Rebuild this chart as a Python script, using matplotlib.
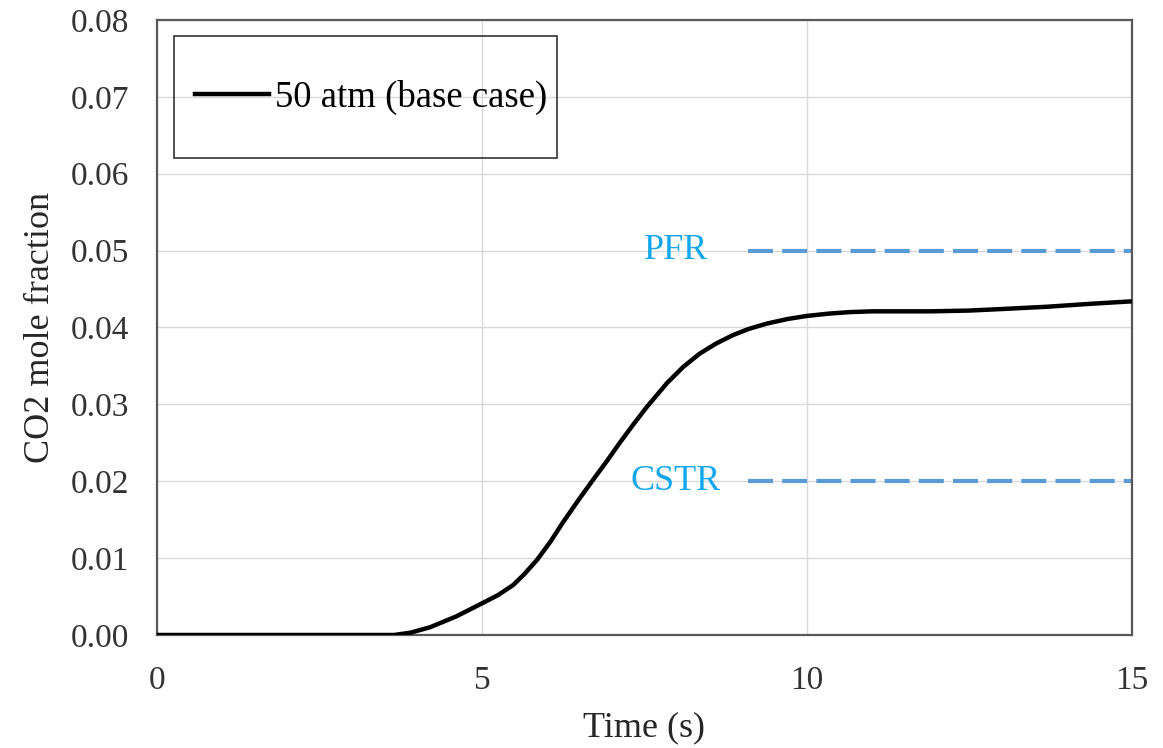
import matplotlib.pyplot as plt
from matplotlib.patches import Rectangle
import numpy as np

plt.rcParams['font.family'] = ['Liberation Serif', 'DejaVu Serif']

# simulated CO2 mole fraction at 50 atm
time_s = [0, 1, 2, 3, 3.65, 3.9, 4.2, 4.6, 5.02, 5.25, 5.48, 5.65, 5.85, 6.05,
          6.25, 6.48, 6.71, 6.92, 7.12, 7.33, 7.54, 7.7, 7.85, 8.1, 8.35,
          8.6, 8.86, 9.1, 9.38, 9.7, 10.0, 10.33, 10.66, 11.0, 11.43, 11.9,
          12.5, 13.0, 13.7, 14.4, 15.0]
co2 = [0, 0, 0, 0, 0, 0.0003, 0.0010, 0.0024, 0.0042, 0.0052, 0.0065, 0.0079,
       0.0098, 0.0121, 0.0147, 0.0175, 0.0202, 0.0226, 0.0250, 0.0274, 0.0297,
       0.0313, 0.0328, 0.0349, 0.0366, 0.0379, 0.0390, 0.0398, 0.0405, 0.0411,
       0.0415, 0.0418, 0.0420, 0.0421, 0.0421, 0.0421, 0.0422, 0.0424, 0.0427,
       0.0431, 0.0434]

# reactor model limits
pfr_level = 0.05
cstr_level = 0.02
ref_start = 9.1
ref_end = 15.0
label_x = 7.98

fig = plt.figure(figsize=(11.63, 7.48), dpi=100)
ax = fig.add_axes([0.135, 0.1511, 0.8383, 0.8222])

ax.plot(time_s, co2, color='black', lw=3.2, label='50 atm (base case)',
        zorder=3, solid_joinstyle='round')

blue = '#5B9BD5'
for lvl in (pfr_level, cstr_level):
    ax.plot([ref_start, ref_end], [lvl, lvl], color=blue, lw=3,
            dashes=(6, 2.2), zorder=2)
ax.text(label_x, pfr_level, 'PFR', color='#12A6EC', fontsize=26,
        ha='center', va='center')
ax.text(label_x, cstr_level, 'CSTR', color='#12A6EC', fontsize=26,
        ha='center', va='center')

ax.set_xlim(0, 15)
ax.set_ylim(0, 0.08)
ax.set_xticks([0, 5, 10, 15])
ax.set_yticks(np.arange(0, 0.081, 0.01))
ax.set_yticklabels(['%.2f' % v for v in np.arange(0, 0.081, 0.01)])
ax.tick_params(length=0, labelsize=24, colors='#333333', pad=20)
ax.tick_params(axis='x', pad=22)
ax.grid(True, color='#d9d9d9', lw=1)
ax.set_axisbelow(True)
for s in ax.spines.values():
    s.set_color('#595959')
    s.set_linewidth(1.6)

ax.set_xlabel('Time (s)', fontsize=26, color='#262626', labelpad=11)
ax.set_ylabel('CO2 mole fraction', fontsize=26, color='#262626', labelpad=10)

# legend frame drawn as its own box
x0, y0, w, h = 0.0174, 0.7756, 0.393, 0.198
ax.add_patch(Rectangle((x0, y0), w, h, transform=ax.transAxes, fill=False,
                       edgecolor='#333333', lw=1.2, zorder=5))
ax.legend(loc='center left', bbox_to_anchor=(x0 + 0.022, y0 + h / 2),
          frameon=False, fontsize=26.5, handlelength=2.0, handletextpad=0.15,
          borderpad=0, borderaxespad=0)

fig.savefig('out.png', dpi=100)
